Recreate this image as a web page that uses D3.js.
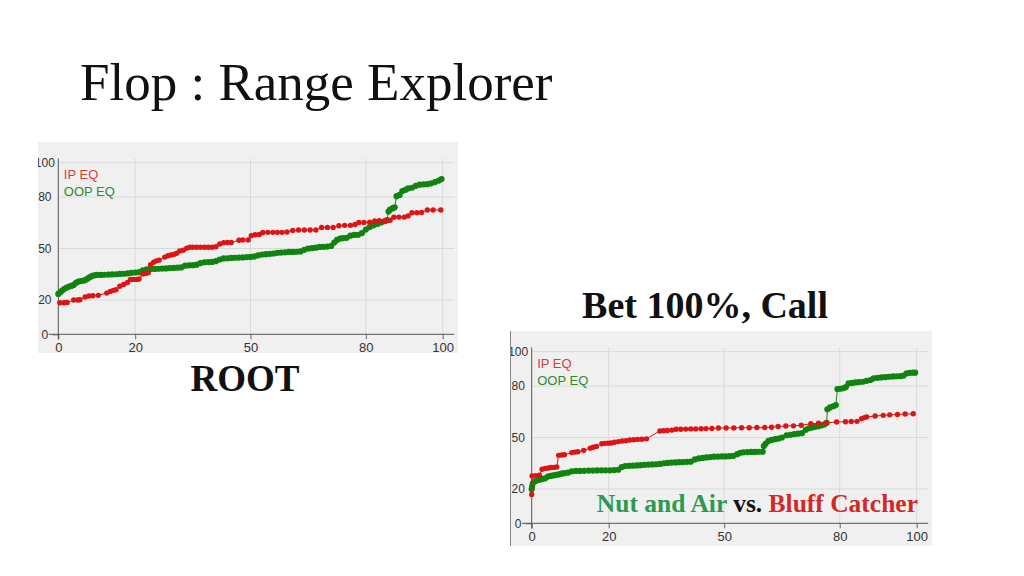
<!DOCTYPE html>
<html lang="en">

<head>
	<meta charset="UTF-8">
	<title>Flop : Range Explorer</title>
	<script type="text/javascript" src="https://cdn.jsdelivr.net/npm/d3@7/dist/d3.min.js" charset="UTF-8"></script>
	<style>
		body { margin: 0; background: #fff; }
		svg { display: block; }
	</style>
</head>

<body>
	<script>
	// tick values shared by both charts
	var xTicks = [0, 20, 50, 80, 100];
	var yTicks = [0, 20, 50, 80, 100];
	var legendLabels = ['IP EQ', 'OOP EQ'];

	// ROOT chart: [range %, equity]
	var rootIp = [[0.4,18.4],[1.5,18.4],[2.3,18.5],[4,20],[5,20],[5.6,20.1],[7,21.8],[8,22.3],[9,22.5],[10.4,22.7],
		[12.6,24],[13.5,25],[14.3,25.6],[15,26],[16,28],[17,29],[18,30.2],[18.8,32],[19.6,32],[20.4,32],[21,32.2],
		[22,35.2],[22.7,35.5],[23.4,35.8],[24,40.5],[24.8,42],[25.5,42.8],[26.2,43.2],[27.7,45],[28.5,45.8],[29.3,46.2],
		[30,46.5],[30.8,47.2],[31.6,48.6],[32.5,49],[33.4,50.2],[34.2,50.7],[35,50.7],[36,50.7],[37,50.7],[38,50.7],
		[39,50.7],[40,50.7],[41,51],[42,52.6],[43,53.4],[44,53.5],[45,53.5],[47,54.8],[48,55],[49.4,55],[50.2,57.5],
		[51.2,58],[52.3,58.2],[53.2,59.3],[54.5,59.4],[55.8,59.4],[57,59.4],[58.2,59.4],[59.5,59.6],[61,60.5],[62.5,60.8],
		[64,60.8],[65.5,60.8],[67,60.8],[68.5,62.2],[70,62.3],[71.5,62.3],[73,63.3],[74.5,63.5],[76,63.5],[77.2,64],
		[78.2,65.2],[79.5,65.2],[81,65.3],[82.3,66],[83.5,66.2],[85,66.2],[86.3,66.5],[87.3,68.2],[88.6,68.3],[90,68.3],
		[91,69],[92,70.8],[93.3,70.9],[94.5,71],[96,72.4],[97.5,72.4],[99.5,72.4]];

	var rootOop = [[0,23.5],[0.5,24.5],[1,25.5],[1.6,26.5],[2.2,27.2],[2.8,27.8],[3.4,28.2],[4,28.8],[4.6,30],[5.2,30.7],
		[5.8,31],[6.4,31.2],[7,31.6],[7.6,32.4],[8.2,33.3],[8.8,34],[9.4,34.4],[10,34.6],[11,34.6],[12,34.7],[13,34.8],
		[14,34.9],[15,35],[16,35.2],[17,35.3],[18,35.5],[19,35.8],[20,36],[21,36.2],[22,37.2],[23,37.9],[24,38],[25,38.1],
		[26,38.2],[27,38.3],[28,38.4],[29,38.6],[30,38.7],[31,38.8],[32,39],[33,40],[34,40.2],[35,40.3],[36,40.6],
		[37,41.5],[38,42],[39,42.1],[40,42.2],[41,42.6],[42,43.6],[43,44.2],[44,44.3],[45,44.5],[46,44.6],[47,44.7],
		[48,44.8],[49,45],[50,45.1],[51,45.4],[52,46],[53,46.5],[54,46.7],[55,46.9],[56,47.1],[57,47.4],[58,47.6],
		[59,47.8],[60,48],[61,48],[62,48.1],[63,48.3],[64,49.2],[65,50],[66,50.2],[67,50.5],[68,50.9],[69,51],[70,51.1],
		[71,51.5],[71.8,53.5],[72.5,55],[73.3,55.8],[74,56],[75,56.2],[76,57.5],[77,57.9],[78,58],[79,59],[80,61],
		[81,62.5],[82,63.5],[83,64.3],[84,65.2],[85,66],[85.5,66.5],[85.9,71.5],[86.3,72.6],[87,73.5],[87.5,74],
		[88,80.5],[88.8,81.2],[89.5,83.5],[90.3,84.2],[91,85],[92,85.4],[93,86.5],[94,87.2],[95,87.4],[96,87.5],
		[97,88],[98,88.7],[99,89.6],[99.7,90.5]];

	// Bet 100%, Call chart: [range %, equity]
	var callIp = [[0,16.8],[0.1,27.6],[1,27.8],[2,28],[2.7,31.5],[3.5,32],[4.3,32.2],[5,32.5],[5.8,32.6],[6.5,32.8],
		[7,39.6],[7.8,39.8],[8.5,40],[10.4,41.2],[11.2,41.5],[12,41.7],[13.5,42.5],[15.2,43.8],[16,44.3],[16.8,44.8],
		[18.2,46.4],[19,46.6],[19.8,46.7],[20.6,46.8],[21.5,47.2],[22.5,47.6],[23.5,48],[24.5,48.1],[25.5,48.5],
		[26.5,48.7],[27.5,48.9],[28.6,49],[29.8,49.2],[33.3,53.8],[34.2,54],[35.2,54.1],[36.4,54.3],[37.5,54.8],
		[38.7,54.8],[40,54.9],[41.3,55],[42.6,55],[44,55.1],[45.3,55.2],[46.8,55.3],[48.5,55.5],[50.5,55.6],[52.5,55.6],
		[54.5,55.7],[56.5,55.7],[58.5,55.8],[60.5,55.8],[62.3,56],[64,56.4],[66,56.7],[68,56.8],[70,57.1],[72.5,58],
		[74.5,58.3],[76.5,58.5],[79.2,59],[81.5,59.2],[83,59.3],[84.5,59.4],[85.7,61],[86.4,61.6],[87,62],[89.2,62.5],
		[91.3,62.9],[93,63.2],[95,63.4],[97,63.7],[99.1,63.8]];

	var callOop = [[0,19.8],[0.1,21.5],[0.3,23.3],[0.9,24.5],[1.5,25.2],[2.2,25.5],[2.9,25.9],[3.5,26.2],[4.2,27.2],
		[4.9,27.6],[5.6,27.9],[6.3,28.2],[7,28.5],[7.7,28.9],[8.4,29.2],[9.4,29.5],[10.4,30.3],[11.5,30.5],[12.6,30.5],
		[13.7,30.6],[14.8,30.7],[15.9,30.7],[17,30.8],[18.1,30.9],[19.2,30.9],[20.3,30.9],[21.4,31],[22.5,31.2],
		[23.4,32.8],[24.3,33.4],[25.3,33.5],[26.3,33.6],[27.3,33.7],[28.3,33.9],[29.3,34.1],[30.3,34.2],[31.3,34.3],
		[32.3,34.4],[33.3,34.6],[34.3,35],[35.3,35.2],[36.3,35.4],[37.3,35.5],[38.3,35.6],[39.3,35.7],[40.3,35.8],
		[41.3,35.9],[42.4,37.2],[43.4,37.8],[44.4,38.1],[45.4,38.4],[46.4,38.6],[47.4,38.8],[48.4,38.9],[49.4,39],
		[50.4,39],[51.4,39.1],[52.4,39.3],[53.4,40.3],[54.2,41.1],[55,41.4],[56,41.5],[57,41.6],[58,41.6],[59,41.7],
		[60,41.7],[60.3,45],[60.8,46.5],[61.5,48],[62.3,48.6],[63.2,49],[64.1,49.4],[65,50],[66.2,51.3],[67.2,51.6],
		[68.2,52],[69.2,52.2],[70.2,52.5],[71.2,54.5],[72,55.4],[72.8,55.8],[73.6,56.2],[74.4,56.6],[75.2,57],[76,57.6],
		[76.6,58.5],[76.8,66.4],[77.5,67.5],[78.3,68.2],[79,68.9],[79.4,78.2],[80.2,78.4],[81,78.8],[81.6,79.4],
		[82.3,81.5],[83.2,81.8],[84.1,82.1],[85,82.3],[86,82.5],[87,83],[88,83.5],[88.8,84.5],[89.8,84.8],[90.8,85],
		[91.8,85.2],[92.8,85.4],[93.8,85.6],[94.8,85.7],[95.8,85.8],[96.6,86.1],[97.4,87.4],[98.2,87.7],[99,87.8],
		[99.6,87.8]];

	var width = 1024,
		height = 576;

	var ipColor = '#de1414',
		oopColor = '#0f840f';

	var svg = d3.select('body').append('svg')
		.attr('width', width)
		.attr('height', height);

	svg.append('rect')
		.attr('width', width)
		.attr('height', height)
		.attr('fill', '#fff');

	var serif = '"Liberation Serif", "DejaVu Serif", serif';
	var sans = '"Liberation Sans", Arial, sans-serif';

	svg.append('text')
		.attr('x', 80)
		.attr('y', 100)
		.attr('font-family', serif)
		.attr('font-size', 53)
		.attr('fill', '#111')
		.text('Flop : Range Explorer');

	function drawChart(id, panel, plot, ip, oop, edgeLine) {
		var g = svg.append('g');

		g.append('clipPath')
			.attr('id', id)
			.append('rect')
			.attr('x', panel.x)
			.attr('y', panel.y)
			.attr('width', panel.w)
			.attr('height', panel.h);

		var c = g.append('g').attr('clip-path', `url(#${id})`);

		c.append('rect')
			.attr('x', panel.x)
			.attr('y', panel.y)
			.attr('width', panel.w)
			.attr('height', panel.h)
			.attr('fill', '#f0f0f0');

		var xScale = d3.scaleLinear()
			.domain([0, 100])
			.range([plot.left, plot.right]);
		var yScale = d3.scaleLinear()
			.domain([0, 100])
			.range([plot.bottom, plot.top]);

		// grid
		c.selectAll('.vgrid')
			.data(xTicks.filter(d => d > 0))
			.enter().append('line')
			.attr('x1', d => xScale(d))
			.attr('x2', d => xScale(d))
			.attr('y1', yScale(0))
			.attr('y2', yScale(102.5))
			.attr('stroke', '#d9d9d9');

		c.selectAll('.hgrid')
			.data(yTicks.filter(d => d > 0))
			.enter().append('line')
			.attr('x1', xScale(0))
			.attr('x2', xScale(103))
			.attr('y1', d => yScale(d))
			.attr('y2', d => yScale(d))
			.attr('stroke', '#d9d9d9');

		// axes
		var xAxis = d3.axisBottom(xScale).tickValues(xTicks).tickSize(5).tickSizeOuter(0).tickPadding(3);
		var yAxis = d3.axisLeft(yScale).tickValues(yTicks).tickSize(6).tickSizeOuter(0);

		var gx = c.append('g')
			.attr('transform', `translate(0,${yScale(0)})`)
			.call(xAxis);
		var gy = c.append('g')
			.attr('transform', `translate(${xScale(0)},0)`)
			.call(yAxis);

		[gx, gy].forEach(function (a) {
			a.select('.domain').remove();
			a.selectAll('line').attr('stroke', '#666');
			a.selectAll('text')
				.attr('font-family', sans)
				.attr('font-size', 13)
				.attr('fill', '#333');
		});
		gy.selectAll('.tick line').attr('x2', d => d === 0 ? -6 : 0);
		gy.selectAll('text')
			.attr('font-size', 12)
			.attr('text-anchor', 'middle')
			.attr('x', -13.5);

		c.append('line')
			.attr('x1', xScale(-2.5))
			.attr('x2', xScale(103))
			.attr('y1', yScale(0))
			.attr('y2', yScale(0))
			.attr('stroke', '#555');
		c.append('line')
			.attr('x1', xScale(0))
			.attr('x2', xScale(0))
			.attr('y1', yScale(-3))
			.attr('y2', yScale(102.5))
			.attr('stroke', '#555');

		// series
		var line = d3.line()
			.x(d => xScale(d[0]))
			.y(d => yScale(d[1]));

		[[oop, oopColor, 3.1], [ip, ipColor, 2.7]].forEach(function (s) {
			c.append('path')
				.datum(s[0])
				.attr('d', line)
				.attr('fill', 'none')
				.attr('stroke', s[1])
				.attr('stroke-width', 1);
			c.append('g').selectAll('circle')
				.data(s[0])
				.enter().append('circle')
				.attr('cx', d => xScale(d[0]))
				.attr('cy', d => yScale(d[1]))
				.attr('r', s[2])
				.attr('fill', s[1]);
		});

		// legend
		c.selectAll('.legend')
			.data(legendLabels)
			.enter().append('text')
			.attr('x', xScale(0) + 5.5)
			.attr('y', (d, i) => yScale(100) + 16.5 + i * 17)
			.attr('font-family', sans)
			.attr('font-size', 13)
			.attr('fill', (d, i) => i === 0 ? '#d93b3b' : '#2f8a2f')
			.text(d => d);

		if (edgeLine) {
			g.append('line')
				.attr('x1', panel.x + 0.5)
				.attr('x2', panel.x + 0.5)
				.attr('y1', panel.y)
				.attr('y2', panel.y + panel.h)
				.attr('stroke', '#888');
		}
	}

	drawChart('clipRoot',
		{ x: 38, y: 142, w: 420, h: 211 },
		{ left: 58.3, right: 442.7, top: 162.7, bottom: 334.3 },
		rootIp, rootOop, false);

	drawChart('clipCall',
		{ x: 510, y: 331, w: 422, h: 215 },
		{ left: 531.7, right: 916.7, top: 351.7, bottom: 523.3 },
		callIp, callOop, true);

	svg.append('text')
		.attr('x', 245)
		.attr('y', 391)
		.attr('text-anchor', 'middle')
		.attr('font-family', serif)
		.attr('font-weight', 'bold')
		.attr('font-size', 37)
		.attr('fill', '#111')
		.text('ROOT');

	svg.append('text')
		.attr('x', 705)
		.attr('y', 318)
		.attr('text-anchor', 'middle')
		.attr('font-family', serif)
		.attr('font-weight', 'bold')
		.attr('font-size', 38)
		.attr('fill', '#111')
		.text('Bet 100%, Call');

	var note = svg.append('text')
		.attr('x', 918)
		.attr('y', 512)
		.attr('text-anchor', 'end')
		.attr('font-family', serif)
		.attr('font-weight', 'bold')
		.attr('font-size', 25.5);
	note.append('tspan').attr('fill', '#2a9a52').text('Nut and Air ');
	note.append('tspan').attr('fill', '#111').text('vs. ');
	note.append('tspan').attr('fill', '#d42828').text('Bluff Catcher');
	</script>

</body>

</html>
